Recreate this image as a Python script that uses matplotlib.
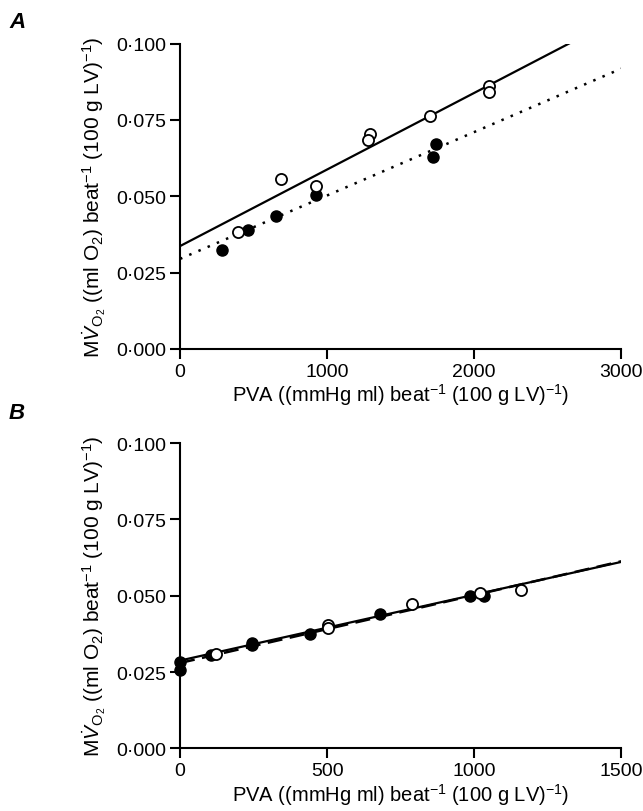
import matplotlib
matplotlib.use("Agg")
import matplotlib.pyplot as plt
from matplotlib.ticker import FuncFormatter

plt.rcParams["font.family"] = ["Liberation Sans", "DejaVu Sans"]
plt.rcParams["mathtext.fontset"] = "custom"
plt.rcParams["mathtext.rm"] = "Liberation Sans"
plt.rcParams["mathtext.it"] = "Liberation Sans:italic"
plt.rcParams["mathtext.bf"] = "Liberation Sans:bold"

# ---------- panel A data ----------
a_open_x = [392, 687, 925, 1293, 1277, 1701, 2104, 2104]
a_open_y = [0.0383, 0.0557, 0.0535, 0.0705, 0.0685, 0.0763, 0.0860, 0.0842]
a_fill_x = [284, 460, 653, 925, 1739, 1723]
a_fill_y = [0.0325, 0.0390, 0.0437, 0.0503, 0.0672, 0.0628]
a_solid_x = [0, 2680]
a_solid_y = [0.0337, 0.1009]
a_dot_x = [0, 3000]
a_dot_y = [0.0295, 0.0918]

# ---------- panel B data ----------
b_open_x = [122, 504, 504, 790, 1020, 1159]
b_open_y = [0.0310, 0.0404, 0.0393, 0.0473, 0.0509, 0.0520]
b_fill_x = [0, 0, 105, 244, 244, 442, 680, 986, 1032]
b_fill_y = [0.0283, 0.0256, 0.0306, 0.0347, 0.0340, 0.0374, 0.0442, 0.0501, 0.0498]
b_solid_x = [0, 1500]
b_solid_y = [0.0288, 0.0611]
b_dash_x = [0, 1500]
b_dash_y = [0.0280, 0.0613]

y_ticks = [0.0, 0.025, 0.05, 0.075, 0.1]
xa_ticks = [0, 1000, 2000, 3000]
xb_ticks = [0, 500, 1000, 1500]

YLABEL = r"M$\dot{\mathit{V}}_{\mathrm{O_2}}$ ((ml O$_2$) beat$^{-1}$ (100 g LV)$^{-1}$)"
XLABEL = r"PVA ((mmHg ml) beat$^{-1}$ (100 g LV)$^{-1}$)"

FS = 14
LFS = 15


def style_axes(ax, xmax, xticks):
    ax.set_xlim(0, xmax)
    ax.set_ylim(0, 0.1)
    ax.set_xticks(xticks)
    ax.set_yticks(y_ticks)
    ax.yaxis.set_major_formatter(FuncFormatter(lambda v, p: f"{v:.3f}".replace(".", "\u00b7")))
    for s in ("top", "right"):
        ax.spines[s].set_visible(False)
    for s in ("left", "bottom"):
        ax.spines[s].set_linewidth(1.5)
    ax.tick_params(direction="out", length=7, width=1.5, labelsize=FS, pad=3)
    ax.set_ylabel(YLABEL, fontsize=LFS, labelpad=6)
    ax.set_xlabel(XLABEL, fontsize=14.5, labelpad=1)


fig = plt.figure(figsize=(6.43, 8.12), dpi=100)
ax1 = fig.add_axes([0.28, 0.569, 0.686, 0.376])
ax2 = fig.add_axes([0.28, 0.077, 0.686, 0.376])

# panel A
ax1.plot(a_solid_x, a_solid_y, color="black", lw=1.6, zorder=2)
ax1.plot(a_dot_x, a_dot_y, color="black", lw=1.8, ls=(0, (1, 3)), zorder=2)
ax1.plot(a_fill_x, a_fill_y, "o", ms=8, color="black", zorder=3, clip_on=False)
ax1.plot(a_open_x, a_open_y, "o", ms=8, mfc="white", mec="black", mew=1.3,
         zorder=4, clip_on=False)
style_axes(ax1, 3000, xa_ticks)

# panel B
ax2.plot(b_dash_x, b_dash_y, color="black", lw=1.8, ls=(0, (6, 3)), zorder=2)
ax2.plot(b_solid_x, b_solid_y, color="black", lw=1.6, zorder=2)
ax2.plot(b_fill_x, b_fill_y, "o", ms=8, color="black", zorder=3, clip_on=False)
ax2.plot(b_open_x, b_open_y, "o", ms=8, mfc="white", mec="black", mew=1.3,
         zorder=4, clip_on=False)
style_axes(ax2, 1500, xb_ticks)

fig.text(0.014, 0.965, "A", fontsize=16, fontweight="bold", style="italic")
fig.text(0.014, 0.484, "B", fontsize=16, fontweight="bold", style="italic")

fig.savefig("out.png", dpi=100)
